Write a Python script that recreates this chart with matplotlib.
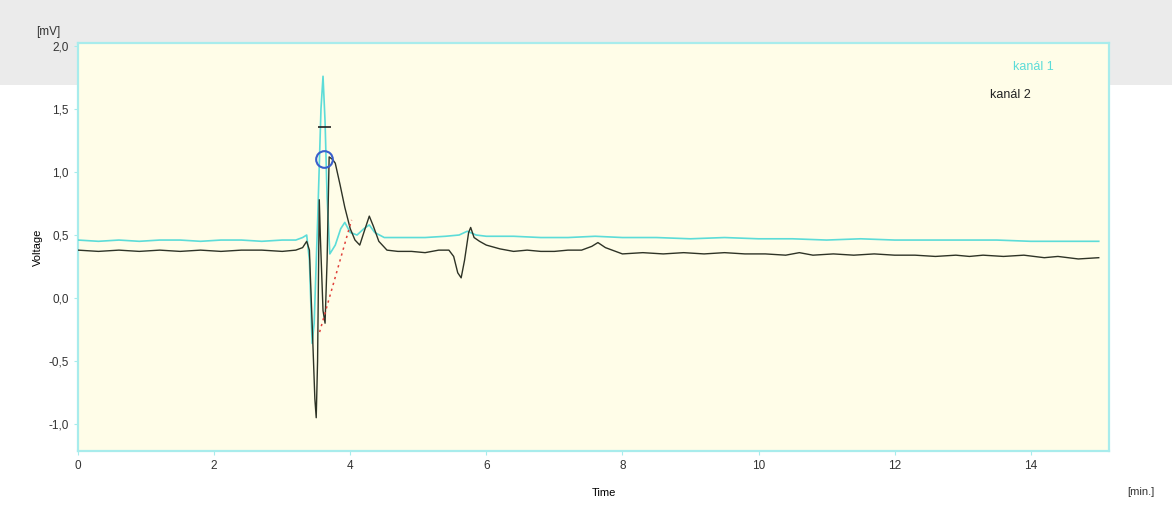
import matplotlib
matplotlib.use("Agg")
from matplotlib import pyplot as plt
from matplotlib.patches import Rectangle

plt.rcParams['font.family'] = ['Liberation Sans', 'DejaVu Sans']

# kanál 1 (cyan trace)
t1 = [0.0, 0.3, 0.6, 0.9, 1.2, 1.5, 1.8, 2.1, 2.4, 2.7, 3.0, 3.2, 3.3, 3.36,
      3.40, 3.44, 3.47, 3.52, 3.57, 3.60, 3.63, 3.66, 3.70, 3.78, 3.86, 3.92,
      4.0, 4.1, 4.2, 4.28, 4.36, 4.5, 4.8, 5.1, 5.4, 5.6, 5.72, 5.85, 6.0,
      6.4, 6.8, 7.2, 7.6, 8.0, 8.5, 9.0, 9.5, 10.0, 10.5, 11.0, 11.5, 12.0,
      12.5, 13.0, 13.5, 14.0, 14.5, 15.0]
v1 = [0.46, 0.45, 0.46, 0.45, 0.46, 0.46, 0.45, 0.46, 0.46, 0.45, 0.46, 0.46,
      0.48, 0.50, 0.30, -0.36, -0.20, 0.60, 1.50, 1.76, 1.40, 0.80, 0.35, 0.42,
      0.55, 0.60, 0.52, 0.50, 0.55, 0.58, 0.52, 0.48, 0.48, 0.48, 0.49, 0.50,
      0.53, 0.50, 0.49, 0.49, 0.48, 0.48, 0.49, 0.48, 0.48, 0.47, 0.48, 0.47,
      0.47, 0.46, 0.47, 0.46, 0.46, 0.46, 0.46, 0.45, 0.45, 0.45]

# kanál 2 (dark trace)
t2 = [0.0, 0.3, 0.6, 0.9, 1.2, 1.5, 1.8, 2.1, 2.4, 2.7, 3.0, 3.2, 3.3, 3.36,
      3.40, 3.44, 3.48, 3.50, 3.52, 3.545, 3.56, 3.60, 3.63, 3.66, 3.69, 3.74,
      3.78, 3.85, 3.92, 4.0, 4.07, 4.14, 4.20, 4.28, 4.34, 4.42, 4.54, 4.7,
      4.9, 5.1, 5.3, 5.45, 5.52, 5.58, 5.63, 5.68, 5.74, 5.77, 5.82, 5.9, 6.0,
      6.2, 6.4, 6.6, 6.8, 7.0, 7.2, 7.4, 7.55, 7.64, 7.75, 7.9, 8.0, 8.3, 8.6,
      8.9, 9.2, 9.5, 9.8, 10.1, 10.4, 10.6, 10.8, 11.1, 11.4, 11.7, 12.0, 12.3,
      12.6, 12.9, 13.1, 13.3, 13.6, 13.9, 14.2, 14.4, 14.7, 15.0]
v2 = [0.38, 0.37, 0.38, 0.37, 0.38, 0.37, 0.38, 0.37, 0.38, 0.38, 0.37, 0.38,
      0.40, 0.45, 0.38, -0.20, -0.80, -0.95, -0.50, 0.78, 0.50, -0.10, -0.20,
      0.30, 1.12, 1.10, 1.07, 0.90, 0.72, 0.55, 0.46, 0.42, 0.52, 0.65, 0.57,
      0.45, 0.38, 0.37, 0.37, 0.36, 0.38, 0.38, 0.33, 0.20, 0.16, 0.30, 0.52,
      0.56, 0.48, 0.45, 0.42, 0.39, 0.37, 0.38, 0.37, 0.37, 0.38, 0.38, 0.41,
      0.44, 0.40, 0.37, 0.35, 0.36, 0.35, 0.36, 0.35, 0.36, 0.35, 0.35, 0.34,
      0.36, 0.34, 0.35, 0.34, 0.35, 0.34, 0.34, 0.33, 0.34, 0.33, 0.34, 0.33,
      0.34, 0.32, 0.33, 0.31, 0.32]

# baseline under the main peak
base_t = [3.55, 4.02]
base_v = [-0.27, 0.62]

# peak marker
peak_t = 3.62
peak_v = 1.10
peak_top = 1.36

x_ticks = [0, 2, 4, 6, 8, 10, 12, 14]
y_ticks = [-1.0, -0.5, 0.0, 0.5, 1.0, 1.5, 2.0]
y_labels = ['-1,0', '-0,5', '0,0', '0,5', '1,0', '1,5', '2,0']

fig = plt.figure(figsize=(11.72, 5.13), dpi=100)
fig.patch.set_facecolor('white')
# grey band across the top, behind everything
fig.patches.append(Rectangle((0, 0.835), 1, 0.165, transform=fig.transFigure,
                             facecolor='#ebebeb', edgecolor='none', zorder=-5))

ax = fig.add_axes([0.0666, 0.1209, 0.8796, 0.7953])
ax.set_zorder(2)
ax.set_facecolor('#fffde8')

ax.plot(t1, v1, color='#5cdcd8', lw=1.2, zorder=3)
ax.plot(t2, v2, color='#2e3326', lw=1.0, zorder=4)
ax.plot(base_t, base_v, color='#e0403a', lw=1.1, ls=(0, (1.5, 2.5)), zorder=5)
ax.plot([peak_t], [peak_v], marker='o', ms=12, mfc='none', mec='#3a5fcc',
        mew=1.5, zorder=6)
ax.hlines(peak_top, 3.52, 3.72, color='#222222', lw=1.2, zorder=6)

ax.set_xlim(0, 15.15)
ax.set_ylim(-1.214, 2.024)
ax.set_xticks(x_ticks)
ax.set_yticks(y_ticks)
ax.set_yticklabels(y_labels)
ax.tick_params(labelsize=8.5, colors='#333333', length=3)
ax.tick_params(color='#a8ecec')
for s in ax.spines.values():
    s.set_color('#a8ecec')
    s.set_linewidth(1.6)

ax.set_ylabel('Voltage', fontsize=8)
ax.set_xlabel('Time', fontsize=8)
ax.xaxis.set_label_coords(0.51, -0.09)
fig.text(0.031, 0.937, '[mV]', fontsize=8.5, color='#333333', ha='left',
         va='center', zorder=10)
fig.text(0.962, 0.035, '[min.]', fontsize=8, color='#333333', ha='left')

ax.text(13.74, 1.83, 'kanál 1', color='#5cdcd8', fontsize=9, va='center')
ax.text(13.4, 1.61, 'kanál 2', color='#222222', fontsize=9, va='center')

fig.savefig('out.png', dpi=100)
